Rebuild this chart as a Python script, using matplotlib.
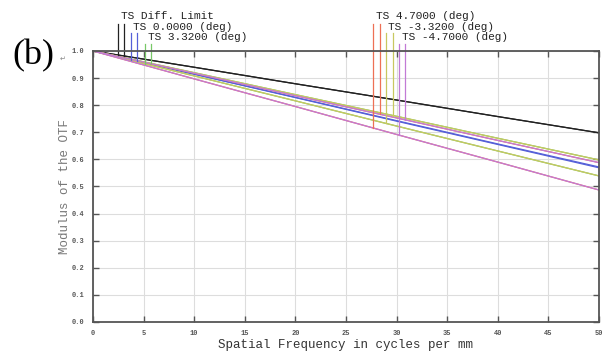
import matplotlib
matplotlib.use('Agg')
import matplotlib.pyplot as plt

# spatial frequency samples (cycles/mm)
freq = [0, 10, 20, 30, 40, 50]

# MTF values, tangential (T) and sagittal (S)
diff_limit = [1.0, 0.940, 0.879, 0.819, 0.758, 0.698]
f00_t = [1.0, 0.914, 0.828, 0.741, 0.655, 0.569]
f00_s = [1.0, 0.915, 0.829, 0.743, 0.657, 0.572]
f332_t = [1.0, 0.908, 0.816, 0.723, 0.631, 0.539]
f332_s = [1.0, 0.920, 0.839, 0.759, 0.678, 0.598]
f47_t = [1.0, 0.897, 0.795, 0.692, 0.590, 0.487]
f47_s = [1.0, 0.918, 0.835, 0.753, 0.670, 0.588]

# field label, T, S, colour, marker x positions, label row
fields = [
    ("TS Diff. Limit", diff_limit, diff_limit, '#222222', (2.47, 3.06), 0),
    ("TS 0.0000 (deg)", f00_t, f00_s, '#5560d8', (3.75, 4.35), 1),
    ("TS 3.3200 (deg)", f332_t, f332_s, '#78c868', (5.14, 5.73), 2),
    ("TS 4.7000 (deg)", f47_t, f47_s, '#ee7055', (27.67, 28.36), 0),
    ("TS -3.3200 (deg)", f332_t, f332_s, '#c8c860', (28.95, 29.64), 1),
    ("TS -4.7000 (deg)", f47_t, f47_s, '#c27ad6', (30.24, 30.83), 2),
]

mono = 'Liberation Mono'

fig = plt.figure(figsize=(6.07, 3.55), dpi=100)
ax = fig.add_axes([0.1532, 0.0930, 0.8336, 0.7634])

for name, t, s, col, mx, row in fields:
    ax.plot(freq, t, color=col, lw=0.9)
    ax.plot(freq, s, color=col, lw=0.9)

# marker lines from the curve up to the label rows
row_top = [1.100, 1.066, 1.026]
row_text = [1.130, 1.087, 1.050]
for name, t, s, col, mx, row in fields:
    for xm, vals in zip(mx, (t, s)):
        # value on the curve at the marker position
        y0 = vals[0] + (vals[-1] - vals[0]) * xm / freq[-1]
        ax.plot([xm, xm], [y0, row_top[row]], color=col, lw=0.9, clip_on=False)
    ax.text(mx[0] + 0.25, row_text[row], name, fontfamily=mono, fontsize=8,
            color='#222222', va='center', ha='left', clip_on=False)

ax.set_xlim(0, 50)
ax.set_ylim(0, 1.0)
ax.set_xticks(range(0, 51, 5))
ax.set_yticks([i / 10 for i in range(11)])
ax.set_yticklabels(['%.1f' % (i / 10) for i in range(11)])
ax.grid(True, color='#dddddd', lw=0.8)
ax.set_axisbelow(True)
ax.tick_params(direction='in', length=4, width=1.0, color='#555555',
               top=True, right=True, labelsize=5, labelcolor='#555555')
ax.tick_params(axis='y', pad=6)
ax.tick_params(axis='x', pad=6)
for lab in ax.get_xticklabels() + ax.get_yticklabels():
    lab.set_fontfamily(mono)
    lab.set_fontweight('bold')
for sp in ax.spines.values():
    sp.set_color('#555555')
    sp.set_linewidth(1.3)

ax.set_xlabel('Spatial Frequency in cycles per mm', fontfamily=mono,
              fontsize=9, color='#333333', labelpad=1)
ax.set_ylabel('Modulus of the OTF', fontfamily=mono, fontsize=9,
              color='#777777', labelpad=1)

fig.text(0.021, 0.842, '(b)', fontsize=26, va='center', ha='left',
         family='Liberation Serif')
fig.text(0.099, 0.835, '↵', fontsize=5, color='#888888', va='center', ha='left')

fig.savefig('out.png', dpi=100)
